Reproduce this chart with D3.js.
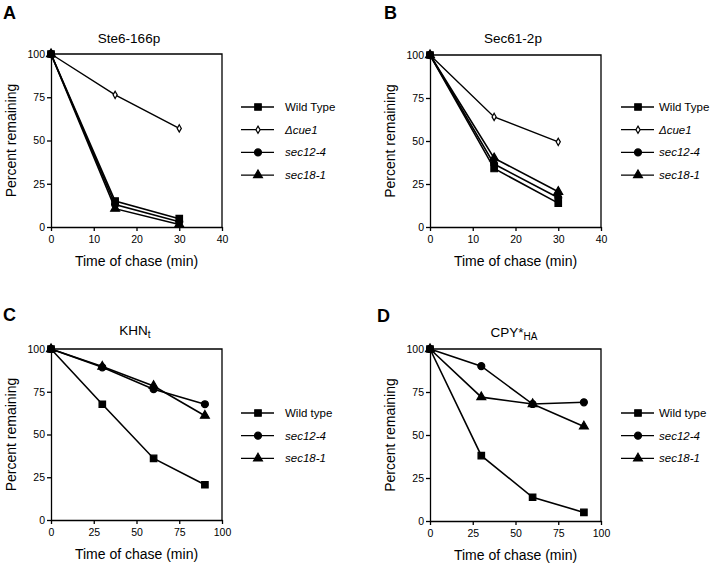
<!DOCTYPE html>
<html>
<head>
<meta charset="utf-8">
<script src="https://cdn.jsdelivr.net/npm/d3@7"></script>
<style>
  body { margin: 0; background: #fff; }
  svg { font-family: "Liberation Sans", Arial, sans-serif; }
  .axis path, .axis line { stroke: #000; stroke-width: 1.3; }
  .axis text { font-size: 10.5px; fill: #000; }
</style>
</head>
<body>
<div id="svg-container"></div>
<script>
// time points (min)
var timesAB = [0, 15, 30];
var timesCD = [0, 30, 60, 90];

// tick labels
var xTicksAB = [0, 10, 20, 30, 40];
var xTicksCD = [0, 25, 50, 75, 100];
var yTicks = [0, 25, 50, 75, 100];

// series names
var namesAB = ["Wild Type", "\u0394cue1", "sec12-4", "sec18-1"];
var namesCD = ["Wild type", "sec12-4", "sec18-1"];

// A: Ste6-166p
var ste6Wild = [100, 15, 4.8];
var ste6Cue1 = [100, 76.4, 57];
var ste6Sec12 = [100, 13, 3];
var ste6Sec18 = [100, 10.6, 1.5];

// B: Sec61-2p
var sec61Wild = [100, 34, 13.9];
var sec61Cue1 = [100, 64, 49.5];
var sec61Sec12 = [100, 36.6, 17];
var sec61Sec18 = [100, 40, 20.5];

// C: KHNt
var khnWild = [100, 67.7, 36, 20.6];
var khnSec12 = [100, 89.3, 76.5, 67.7];
var khnSec18 = [100, 89.7, 78.4, 61];

// D: CPY*HA
var cpyWild = [100, 38, 13.8, 5];
var cpySec12 = [100, 90, 68, 69];
var cpySec18 = [100, 72, 68, 55];

var W = 720, H = 568;

var svg = d3.select("#svg-container")
            .append("svg")
            .attr("width", W)
            .attr("height", H);

// marker shapes per series kind
var markerFor = {
  "wild":  { type: d3.symbolSquare,   size: 42, fill: "#000" },
  "cue1":  { type: d3.symbolDiamond,  size: 15, fill: "#fff" },
  "sec12": { type: d3.symbolCircle,   size: 38, fill: "#000" },
  "sec18": { type: d3.symbolTriangle, size: 34, fill: "#000" }
};

var panels = [
  { letter: "A", lx: 3, ly: 19, left: 51, top: 54, w: 171, h: 173,
    title: [["Ste6-166p", null]], tx: 129, ty: 43,
    xmax: 40, xTicks: xTicksAB, times: timesAB,
    series: [
      { key: "wild", name: namesAB[0], values: ste6Wild },
      { key: "cue1", name: namesAB[1], values: ste6Cue1 },
      { key: "sec12", name: namesAB[2], values: ste6Sec12 },
      { key: "sec18", name: namesAB[3], values: ste6Sec18 }
    ],
    legX: 241, legY: 107, legStep: 22.7, legGap: 11 },
  { letter: "B", lx: 384, ly: 19, left: 430, top: 55, w: 171, h: 172,
    title: [["Sec61-2p", null]], tx: 513, ty: 43,
    xmax: 40, xTicks: xTicksAB, times: timesAB,
    series: [
      { key: "wild", name: namesAB[0], values: sec61Wild },
      { key: "cue1", name: namesAB[1], values: sec61Cue1 },
      { key: "sec12", name: namesAB[2], values: sec61Sec12 },
      { key: "sec18", name: namesAB[3], values: sec61Sec18 }
    ],
    legX: 621, legY: 107, legStep: 22.7, legGap: 5 },
  { letter: "C", lx: 3, ly: 321, left: 51, top: 349, w: 171, h: 171,
    title: [["KHN", null], ["t", "sub"]], tx: 135, ty: 335,
    xmax: 100, xTicks: xTicksCD, times: timesCD,
    series: [
      { key: "wild", name: namesCD[0], values: khnWild },
      { key: "sec12", name: namesCD[1], values: khnSec12 },
      { key: "sec18", name: namesCD[2], values: khnSec18 }
    ],
    legX: 241, legY: 413, legStep: 22.7, legGap: 11 },
  { letter: "D", lx: 377, ly: 322, left: 430, top: 349, w: 171, h: 172,
    title: [["CPY*", null], ["HA", "sub"]], tx: 514, ty: 337,
    xmax: 100, xTicks: xTicksCD, times: timesCD,
    series: [
      { key: "wild", name: namesCD[0], values: cpyWild },
      { key: "sec12", name: namesCD[1], values: cpySec12 },
      { key: "sec18", name: namesCD[2], values: cpySec18 }
    ],
    legX: 621, legY: 413, legStep: 22.7, legGap: 5 }
];

panels.forEach(drawPanel);

function drawPanel(p) {
  var x = d3.scaleLinear().domain([0, p.xmax]).range([p.left, p.left + p.w]);
  var y = d3.scaleLinear().domain([0, 100]).range([p.top + p.h, p.top]);

  // panel letter
  svg.append("text")
     .attr("x", p.lx)
     .attr("y", p.ly)
     .attr("font-size", 18)
     .attr("font-weight", "bold")
     .text(p.letter);

  // title (with optional subscript)
  var t = svg.append("text")
             .attr("x", p.tx)
             .attr("y", p.ty)
             .attr("text-anchor", "middle")
             .attr("font-size", 13.5);
  p.title.forEach(function(part) {
    var ts = t.append("tspan").text(part[0]);
    if (part[1] === "sub") ts.attr("dy", 3).attr("font-size", 10);
  });

  // frame top + right
  svg.append("path")
     .attr("d", "M" + p.left + "," + p.top + "H" + (p.left + p.w) + "V" + (p.top + p.h))
     .attr("fill", "none")
     .attr("stroke", "#000")
     .attr("stroke-width", 1.3);

  svg.append("g")
     .attr("class", "axis")
     .attr("transform", "translate(0," + (p.top + p.h) + ")")
     .call(d3.axisBottom(x).tickValues(p.xTicks).tickSize(4).tickSizeOuter(0).tickPadding(5));

  svg.append("g")
     .attr("class", "axis")
     .attr("transform", "translate(" + p.left + ",0)")
     .call(d3.axisLeft(y).tickValues(yTicks).tickSize(4).tickSizeOuter(0).tickPadding(2));

  // axis titles
  svg.append("text")
     .attr("x", p.left + p.w / 2)
     .attr("y", p.top + p.h + 39)
     .attr("text-anchor", "middle")
     .attr("font-size", 14)
     .text("Time of chase (min)");

  svg.append("text")
     .attr("transform", "translate(" + (p.left - 35) + "," + (p.top + p.h / 2) + ") rotate(-90)")
     .attr("text-anchor", "middle")
     .attr("font-size", 14)
     .text("Percent remaining");

  var line = d3.line()
               .x(function(d) { return x(d.t); })
               .y(function(d) { return y(d.v); });

  var symbol = d3.symbol();

  // draw series back to front so wild type sits on top
  p.series.slice().reverse().forEach(function(s) {
    var pts = s.values.map(function(v, i) { return { t: p.times[i], v: v }; });
    var m = markerFor[s.key];

    svg.append("path")
       .datum(pts)
       .attr("fill", "none")
       .attr("stroke", "#000")
       .attr("stroke-width", s.key === "cue1" ? 1.4 : 1.6)
       .attr("d", line);

    svg.selectAll(null)
       .data(pts)
       .enter()
       .append("path")
       .attr("transform", function(d) { return "translate(" + x(d.t) + "," + y(d.v) + ")"; })
       .attr("d", symbol.type(m.type).size(m.size))
       .attr("fill", m.fill)
       .attr("stroke", "#000")
       .attr("stroke-width", 1.2);
  });

  // legend
  var leg = svg.append("g");
  p.series.forEach(function(s, i) {
    var ly = p.legY + i * p.legStep;
    var m = markerFor[s.key];
    leg.append("line")
       .attr("x1", p.legX).attr("x2", p.legX + 33)
       .attr("y1", ly).attr("y2", ly)
       .attr("stroke", "#000")
       .attr("stroke-width", 1.3);
    leg.append("path")
       .attr("transform", "translate(" + (p.legX + 17) + "," + ly + ")")
       .attr("d", symbol.type(m.type).size(m.size))
       .attr("fill", m.fill)
       .attr("stroke", "#000")
       .attr("stroke-width", 1.2);
    leg.append("text")
       .attr("x", p.legX + 33 + p.legGap)
       .attr("y", ly + 4)
       .attr("font-size", 11.5)
       .attr("font-style", s.key === "wild" ? "normal" : "italic")
       .text(s.name);
  });
}
</script>
</body>
</html>
